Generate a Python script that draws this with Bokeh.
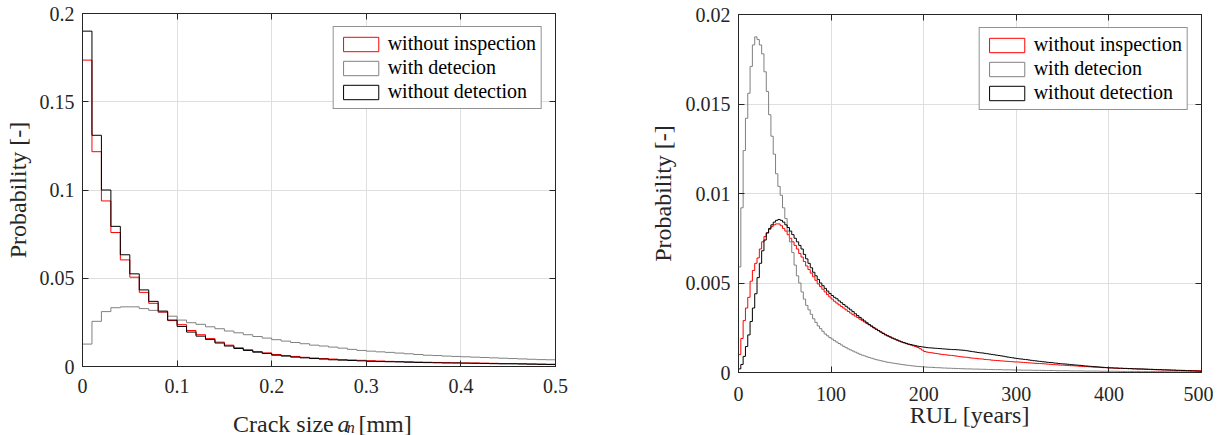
import numpy as np
from bokeh.plotting import figure
from bokeh.models import (Range1d, FixedTicker, LinearAxis, Legend, LegendItem, Label)
from bokeh.layouts import row, column
from bokeh.embed import file_html
from bokeh.resources import INLINE

FONT = "Liberation Serif"
TXT = "#262626"
AX = "#262626"
GRID = "#dfdfdf"

series_names = ["without inspection", "with detecion", "without detection"]
series_colors = ["#ff0000", "#808080", "#000000"]

# ---------------- Left panel: crack size histogram ----------------
crack_bin_width = 0.01
crack_without_inspection = [
    0.1736, 0.1217, 0.0938, 0.0759, 0.0604, 0.0506, 0.0420, 0.0358, 0.0307, 0.0260,
    0.0237, 0.0204, 0.0180, 0.0158, 0.0138, 0.0121, 0.0106, 0.0095, 0.0085, 0.0077,
    0.0068, 0.0062, 0.0057, 0.0052, 0.0048, 0.0045, 0.0042, 0.0039, 0.0037, 0.0035,
    0.0033, 0.0031, 0.0029, 0.0028, 0.0027, 0.0025, 0.0024, 0.0023, 0.0022, 0.0021,
    0.0020, 0.0020, 0.0019, 0.0018, 0.0017, 0.0017, 0.0016, 0.0015, 0.0014, 0.0013]
crack_with_detection = [
    0.0127, 0.0256, 0.0311, 0.0333, 0.0338, 0.0338, 0.0328, 0.0318, 0.0309, 0.0285,
    0.0263, 0.0248, 0.0239, 0.0225, 0.0214, 0.0201, 0.0191, 0.0180, 0.0170, 0.0161,
    0.0152, 0.0144, 0.0136, 0.0129, 0.0121, 0.0116, 0.0110, 0.0104, 0.0097, 0.0091,
    0.0087, 0.0083, 0.0080, 0.0076, 0.0072, 0.0068, 0.0064, 0.0062, 0.0059, 0.0057,
    0.0055, 0.0053, 0.0051, 0.0049, 0.0047, 0.0045, 0.0043, 0.0041, 0.0039, 0.0038]
crack_without_detection = [
    0.1900, 0.1310, 0.1000, 0.0794, 0.0633, 0.0525, 0.0434, 0.0369, 0.0314, 0.0263,
    0.0227, 0.0195, 0.0172, 0.0153, 0.0133, 0.0116, 0.0102, 0.0091, 0.0081, 0.0074,
    0.0064, 0.0059, 0.0053, 0.0049, 0.0045, 0.0042, 0.0038, 0.0036, 0.0034, 0.0032,
    0.0029, 0.0028, 0.0027, 0.0026, 0.0024, 0.0023, 0.0022, 0.0021, 0.0020, 0.0020,
    0.0019, 0.0018, 0.0017, 0.0016, 0.0015, 0.0015, 0.0014, 0.0013, 0.0012, 0.0011]
crack_xticks = [0, 0.1, 0.2, 0.3, 0.4, 0.5]
crack_xtick_labels = ["0", "0.1", "0.2", "0.3", "0.4", "0.5"]
crack_yticks = [0, 0.05, 0.1, 0.15, 0.2]
crack_ytick_labels = ["0", "0.05", "0.1", "0.15", "0.2"]

# ---------------- Right panel: RUL histogram (values in 1e-3) ----------------
rul_bin_width = 2.5
rul_unit = 1e-3
rul_without_inspection = [
    1.0, 1.9, 2.9, 3.6, 4.2, 5.1, 5.7, 6.1, 6.4, 6.9,
    7.3, 7.6, 7.8, 8.0, 8.15, 8.25, 8.3, 8.3, 8.2, 8.05,
    7.9, 7.7, 7.5, 7.3, 7.1, 6.9, 6.65, 6.45, 6.2, 5.95,
    5.75, 5.55, 5.35, 5.15, 4.95, 4.8, 4.65, 4.5, 4.35, 4.22,
    4.1, 3.98, 3.88, 3.78, 3.69, 3.6, 3.5, 3.41, 3.32, 3.23,
    3.15, 3.07, 2.98, 2.9, 2.82, 2.74, 2.66, 2.58, 2.5, 2.42,
    2.35, 2.27, 2.2, 2.13, 2.06, 2.0, 1.93, 1.87, 1.81, 1.76,
    1.71, 1.66, 1.61, 1.57, 1.53, 1.49, 1.45, 1.4, 1.33, 1.25,
    1.17, 1.14, 1.12, 1.1, 1.08, 1.06, 1.04, 1.02, 1.0, 0.99,
    0.97, 0.96, 0.95, 0.93, 0.91, 0.89, 0.87, 0.86, 0.85, 0.83,
    0.81, 0.8, 0.79, 0.77, 0.76, 0.75, 0.73, 0.72, 0.71, 0.69,
    0.68, 0.67, 0.66, 0.65, 0.64, 0.63, 0.62, 0.61, 0.6, 0.59,
    0.59, 0.58, 0.57, 0.56, 0.55, 0.54, 0.53, 0.52, 0.51, 0.5,
    0.5, 0.49, 0.48, 0.47, 0.46, 0.45, 0.44, 0.43, 0.42, 0.41,
    0.41, 0.4, 0.39, 0.38, 0.38, 0.37, 0.36, 0.35, 0.34, 0.33,
    0.33, 0.32, 0.31, 0.3, 0.3, 0.29, 0.28, 0.27, 0.27, 0.26,
    0.26, 0.25, 0.24, 0.24, 0.23, 0.23, 0.22, 0.22, 0.21, 0.21,
    0.2, 0.2, 0.19, 0.19, 0.18, 0.18, 0.17, 0.17, 0.16, 0.16,
    0.15, 0.15, 0.15, 0.14, 0.14, 0.14, 0.13, 0.13, 0.13, 0.12,
    0.12, 0.12, 0.12, 0.11, 0.11, 0.11, 0.11, 0.11, 0.1, 0.1]
rul_with_detection = [
    5.9, 9.2, 12.4, 14.2, 15.6, 17.1, 18.3, 18.75, 18.6, 18.3,
    17.8, 16.8, 15.7, 14.4, 13.2, 12.2, 11.1, 10.4, 9.9, 9.2,
    8.6, 7.9, 7.3, 6.7, 6.0, 5.4, 5.0, 4.5, 4.1, 3.75,
    3.5, 3.25, 3.0, 2.8, 2.6, 2.45, 2.3, 2.15, 2.05, 1.95,
    1.87, 1.78, 1.70, 1.62, 1.54, 1.46, 1.39, 1.32, 1.26, 1.20,
    1.14, 1.08, 1.02, 0.97, 0.93, 0.88, 0.84, 0.80, 0.76, 0.72,
    0.69, 0.66, 0.63, 0.60, 0.57, 0.55, 0.53, 0.51, 0.49, 0.47,
    0.45, 0.43, 0.41, 0.40, 0.38, 0.37, 0.35, 0.34, 0.33, 0.32,
    0.31, 0.30, 0.29, 0.29, 0.28, 0.27, 0.27, 0.26, 0.25, 0.25,
    0.24, 0.24, 0.23, 0.23, 0.22, 0.22, 0.21, 0.21, 0.20, 0.20,
    0.20, 0.19, 0.19, 0.19, 0.18, 0.18, 0.18, 0.17, 0.17, 0.17,
    0.16, 0.16, 0.16, 0.16, 0.15, 0.15, 0.15, 0.15, 0.14, 0.14,
    0.14, 0.14, 0.13, 0.13, 0.13, 0.13, 0.13, 0.12, 0.12, 0.12,
    0.12, 0.12, 0.11, 0.11, 0.11, 0.11, 0.11, 0.10, 0.10, 0.10,
    0.10, 0.10, 0.10, 0.09, 0.09, 0.09, 0.09, 0.09, 0.09, 0.08,
    0.08, 0.08, 0.08, 0.08, 0.08, 0.08, 0.07, 0.07, 0.07, 0.07,
    0.07, 0.07, 0.07, 0.07, 0.06, 0.06, 0.06, 0.06, 0.06, 0.06,
    0.06, 0.06, 0.06, 0.05, 0.05, 0.05, 0.05, 0.05, 0.05, 0.05,
    0.05, 0.05, 0.05, 0.05, 0.05, 0.04, 0.04, 0.04, 0.04, 0.04,
    0.04, 0.04, 0.04, 0.04, 0.04, 0.04, 0.04, 0.04, 0.04, 0.04]
rul_without_detection = [
    0.2, 0.45, 0.9, 1.45, 2.1, 2.85, 3.6, 4.4, 5.3, 6.1,
    6.8, 7.4, 7.8, 8.05, 8.25, 8.4, 8.5, 8.55, 8.5, 8.4,
    8.25, 8.1, 7.9, 7.7, 7.5, 7.3, 7.1, 6.9, 6.6, 6.35,
    6.1, 5.85, 5.6, 5.4, 5.2, 5.0, 4.85, 4.7, 4.55, 4.42,
    4.3, 4.2, 4.12, 4.0, 3.9, 3.8, 3.7, 3.6, 3.5, 3.4,
    3.28, 3.18, 3.08, 2.98, 2.88, 2.78, 2.68, 2.6, 2.5, 2.42,
    2.34, 2.26, 2.18, 2.1, 2.04, 1.98, 1.92, 1.87, 1.82, 1.76,
    1.71, 1.67, 1.63, 1.59, 1.56, 1.53, 1.5, 1.47, 1.45, 1.43,
    1.41, 1.39, 1.38, 1.37, 1.36, 1.35, 1.34, 1.33, 1.32, 1.31,
    1.3, 1.29, 1.28, 1.28, 1.27, 1.26, 1.25, 1.24, 1.22, 1.2,
    1.18, 1.16, 1.14, 1.12, 1.1, 1.09, 1.07, 1.05, 1.03, 1.01,
    0.99, 0.97, 0.95, 0.93, 0.91, 0.88, 0.86, 0.84, 0.82, 0.8,
    0.78, 0.76, 0.75, 0.73, 0.72, 0.7, 0.68, 0.66, 0.65, 0.63,
    0.62, 0.6, 0.59, 0.57, 0.56, 0.55, 0.53, 0.52, 0.5, 0.49,
    0.48, 0.47, 0.46, 0.44, 0.43, 0.42, 0.41, 0.4, 0.39, 0.37,
    0.36, 0.35, 0.34, 0.33, 0.32, 0.31, 0.3, 0.29, 0.28, 0.27,
    0.26, 0.26, 0.25, 0.25, 0.24, 0.24, 0.23, 0.23, 0.22, 0.22,
    0.21, 0.21, 0.2, 0.2, 0.2, 0.19, 0.19, 0.18, 0.18, 0.17,
    0.17, 0.16, 0.16, 0.15, 0.15, 0.14, 0.14, 0.13, 0.13, 0.12,
    0.12, 0.11, 0.11, 0.1, 0.1, 0.09, 0.09, 0.08, 0.08, 0.07]
rul_xticks = [0, 100, 200, 300, 400, 500]
rul_xtick_labels = ["0", "100", "200", "300", "400", "500"]
rul_yticks = [0, 0.005, 0.01, 0.015, 0.02]
rul_ytick_labels = ["0", "0.005", "0.01", "0.015", "0.02"]


def stairs(bin_width, vals, scale=1.0):
    edges = np.arange(len(vals) + 1) * bin_width
    xs = [edges[0]]
    ys = [0.0]
    for i, v in enumerate(vals):
        xs += [edges[i], edges[i + 1]]
        ys += [v * scale, v * scale]
    xs.append(edges[-1])
    ys.append(0.0)
    return xs, ys


def make_panel(xr, yr, xticks, xlabels, yticks, ylabels, fw, fh, bl, br, bt, bb,
               ylabel, ylabel_standoff, xstandoff):
    p = figure(width=bl + fw + br, height=bt + fh + bb,
               min_border_left=bl, min_border_right=br,
               min_border_top=bt, min_border_bottom=bb,
               x_range=Range1d(*xr), y_range=Range1d(*yr),
               output_backend="svg", toolbar_location=None)
    p.background_fill_color = "white"
    p.border_fill_color = "white"
    p.outline_line_color = AX
    p.outline_line_width = 1
    xt = FixedTicker(ticks=xticks)
    yt = FixedTicker(ticks=yticks)
    xb = p.below[0]
    yl = p.left[0]
    for ax, t, labs in ((xb, xt, xlabels), (yl, yt, ylabels)):
        ax.ticker = t
        ax.major_label_overrides = dict(zip(t.ticks, labs))
        ax.major_label_text_font = FONT
        ax.major_label_text_font_style = "normal"
        ax.major_label_text_font_size = "20px"
        ax.major_label_text_color = TXT
        ax.major_tick_in = 6
        ax.major_tick_out = 0
        ax.minor_tick_line_color = None
        ax.axis_line_color = AX
        ax.major_tick_line_color = AX
        ax.axis_label_text_font = FONT
        ax.axis_label_text_font_style = "normal"
        ax.axis_label_text_font_size = "24px"
        ax.axis_label_text_color = TXT
    xb.major_label_standoff = xstandoff
    yl.major_label_standoff = 8
    yl.axis_label = ylabel
    yl.axis_label_standoff = ylabel_standoff
    p.xgrid.ticker = xt
    p.ygrid.ticker = yt
    p.xgrid.grid_line_color = GRID
    p.ygrid.grid_line_color = GRID
    for t, place in ((xt, "above"), (yt, "right")):
        ax = LinearAxis(ticker=t, major_label_text_font_size="0px", major_label_standoff=0,
                        major_label_text_alpha=0,
                        major_tick_in=6, major_tick_out=0, minor_tick_line_color=None,
                        axis_line_color=AX, major_tick_line_color=AX)
        p.add_layout(ax, place)
    return p, xb


def add_legend(p):
    items = []
    nan = float("nan")
    for name, color in zip(series_names, series_colors):
        r = p.quad(left=[nan], right=[nan], top=[nan], bottom=[nan], fill_color=None,
                   line_color=color, line_width=1)
        items.append(LegendItem(label=name, renderers=[r]))
    lg = Legend(items=items, location="top_right", margin=13, padding=5, spacing=1,
                glyph_width=44, glyph_height=18, label_standoff=5, label_height=18,
                label_text_font=FONT, label_text_font_size="20px", label_text_color="#000000",
                border_line_color=AX, border_line_width=1,
                background_fill_color="white", background_fill_alpha=1.0)
    p.add_layout(lg)


# Left figure
p1, xb1 = make_panel((0, 0.5), (0, 0.2), crack_xticks, crack_xtick_labels, crack_yticks,
                     crack_ytick_labels, 473, 353, 82, 57, 13, 36,
                     "Probability [-]", 6, 12)
for vals, color in zip([crack_without_inspection, crack_with_detection, crack_without_detection],
                       series_colors):
    xs, ys = stairs(crack_bin_width, vals)
    p1.line(xs, ys, line_color=color, line_width=1)
add_legend(p1)

# strip under the left panel holding the x-axis title with italic subscripted symbol
strip = figure(width=612, height=33, x_range=Range1d(0, 612), y_range=Range1d(0, 33),
               x_axis_location=None, y_axis_location=None, title=None,
               min_border=0, min_border_left=0, min_border_right=0,
               min_border_top=0, min_border_bottom=0,
               output_backend="svg", toolbar_location=None)
strip.outline_line_color = None
strip.grid.visible = False
strip.background_fill_color = "white"
strip.border_fill_color = "white"


def slab(x, y, text, size="24px", style="normal", align="left"):
    strip.add_layout(Label(x=x, y=y, text=text, text_font=FONT, text_font_size=size,
                           text_font_style=style, text_color=TXT, text_align=align,
                           text_baseline="alphabetic"))


slab(325, 12, "Crack size", align="right")
slab(330, 12, "a", style="italic")
slab(342, 8, "n", size="16px", style="italic")
slab(357, 12, "[mm]")

# Right figure
p2, xb2 = make_panel((0, 500), (0, 0.02), rul_xticks, rul_xtick_labels, rul_yticks,
                     rul_ytick_labels, 463, 360, 126, 12, 14, 56,
                     "Probability [-]", 7, 14)
xb2.axis_label = "RUL [years]"
xb2.axis_label_standoff = -2
for vals, color in zip([rul_without_inspection, rul_with_detection, rul_without_detection],
                       series_colors):
    xs, ys = stairs(rul_bin_width, vals, rul_unit)
    p2.line(xs, ys, line_color=color, line_width=1)
add_legend(p2)

layout = row(column(p1, strip), p2)
open("out.html", "w").write(file_html(layout, INLINE))
